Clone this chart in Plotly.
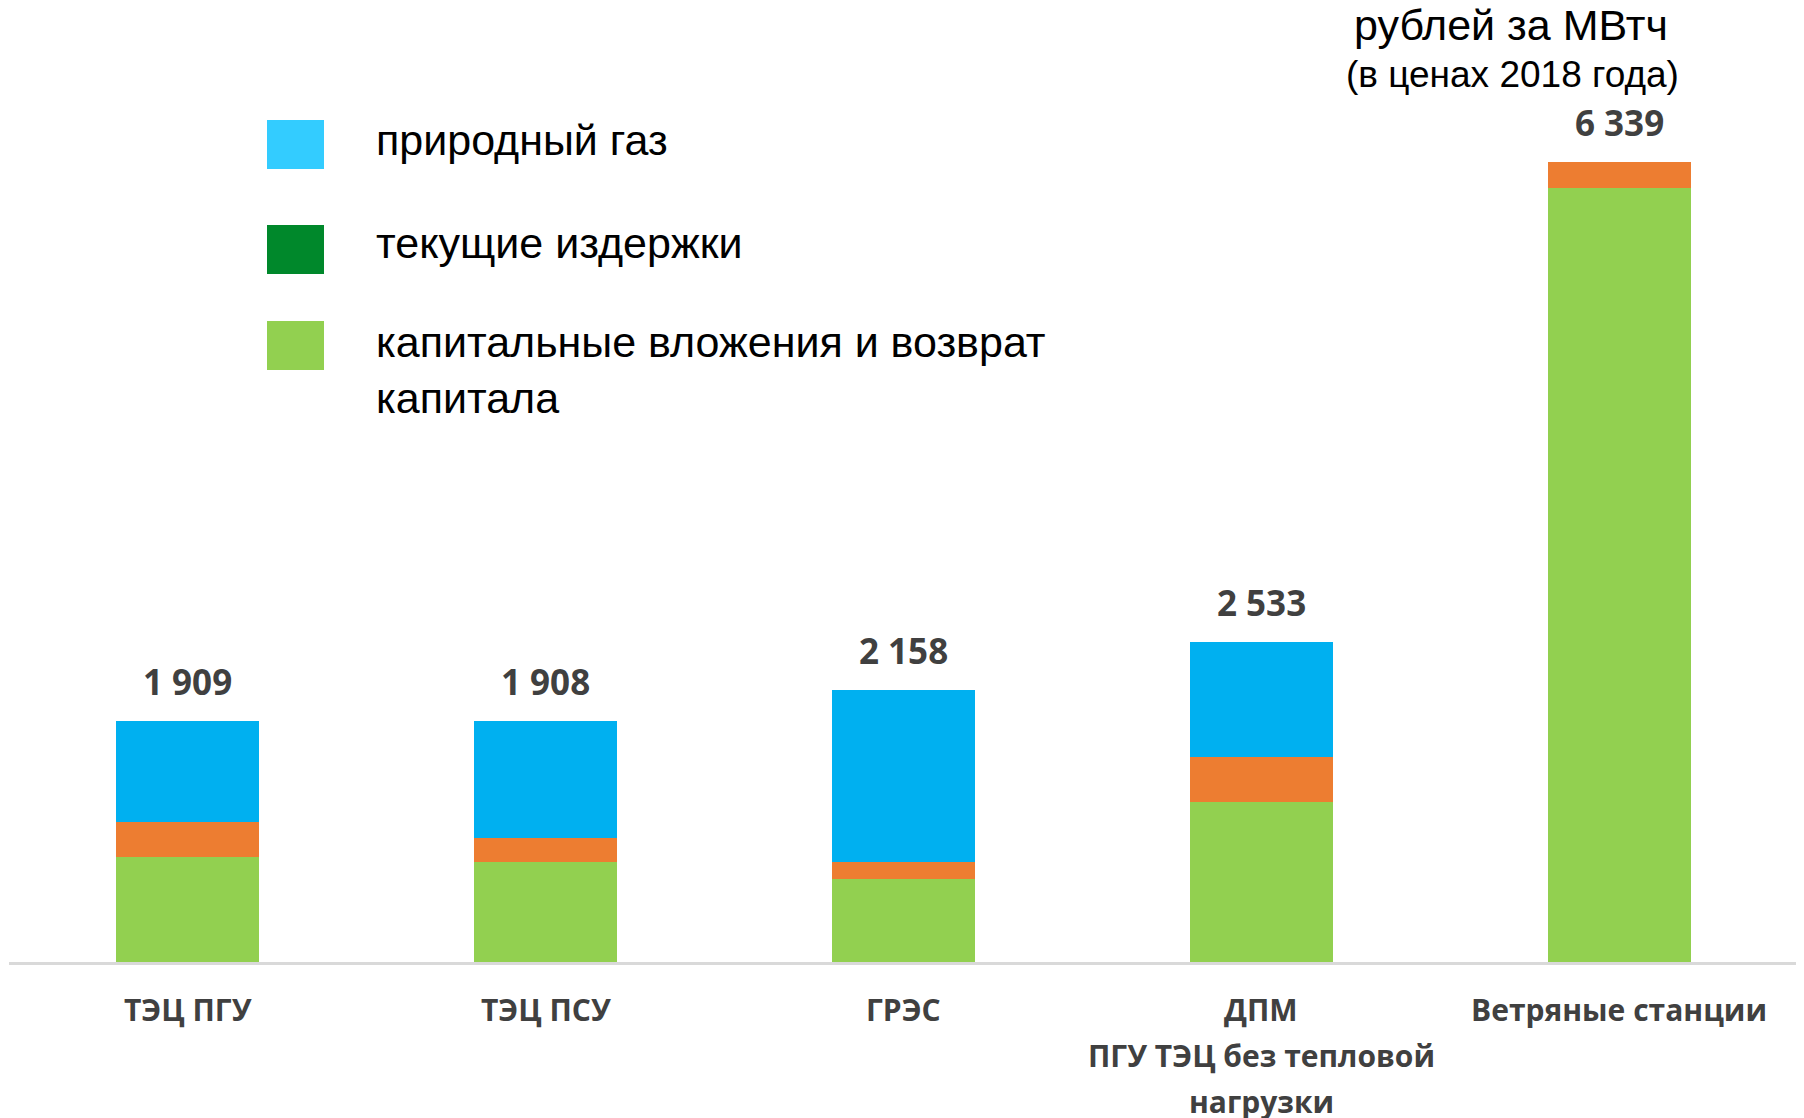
import plotly.graph_objects as go

categories = ["ТЭЦ ПГУ", "ТЭЦ ПСУ", "ГРЭС", "ДПМ", "Ветряные станции"]
category_lines = [["ТЭЦ ПГУ"], ["ТЭЦ ПСУ"], ["ГРЭС"], ["ДПМ", "ПГУ ТЭЦ без тепловой", "нагрузки"], ["Ветряные станции"]]
capital = [831, 791, 660, 1268, 6135]
current = [275, 193, 132, 358, 204]
gas = [803, 924, 1366, 907, 0]
totals = [1909, 1908, 2158, 2533, 6339]

legend_labels = ["природный газ", "текущие издержки", "капитальные вложения и возврат<br>капитала"]
legend_colors = ["#33CCFF", "#00882B", "#92D050"]

OFF = 8  # page body margin
W, H = 1796, 1110
L, R, T, B = 1, 6, 92, 156
PW, PH = W - L - R, H - T - B


def px(x):
    return (x - OFF - L) / PW


def py(y):
    return (H - B - (y - OFF)) / PH


fig = go.Figure()
fig.add_trace(go.Bar(x=categories, y=capital, marker=dict(color="#92D050", line_width=0), showlegend=False))
fig.add_trace(go.Bar(x=categories, y=current, marker=dict(color="#ED7D31", line_width=0), showlegend=False))
fig.add_trace(go.Bar(x=categories, y=gas, marker=dict(color="#00B0F0", line_width=0), showlegend=False))

for c, t in zip(categories, totals):
    fig.add_annotation(x=c, y=t, xref="x", yref="y", text=f"{t:,}".replace(",", " "),
                       showarrow=False, yanchor="bottom", yshift=14,
                       font=dict(family="Open Sans", size=35, color="#404040", weight="bold"))

# category labels (one annotation per line for the original's line spacing)
line_ys = [1010, 1055, 1101]
for c, lines in zip(categories, category_lines):
    for ly, txt in zip(line_ys, lines):
        fig.add_annotation(x=c, xref="x", yref="paper", y=py(ly), text=txt,
                           showarrow=False, xanchor="center", yanchor="middle",
                           font=dict(family="Open Sans", size=30, color="#404040", weight="bold"))

# legend drawn manually (colors differ from bars in the original)
sw_tops = [120, 225, 321]
text_ys = [140, 243, 370]
for top, ty, lab, col in zip(sw_tops, text_ys, legend_labels, legend_colors):
    fig.add_shape(type="rect", xref="paper", yref="paper",
                  x0=px(267), x1=px(324), y0=py(top + 49), y1=py(top),
                  fillcolor=col, line_width=0)
    fig.add_annotation(xref="paper", yref="paper", x=px(374), y=py(ty), text=lab,
                       showarrow=False, xanchor="left", yanchor="middle", align="left",
                       font=dict(family="Liberation Sans, Arial", size=43, color="#000000"))

fig.add_annotation(xref="paper", yref="paper", x=px(1511), y=py(25), text="рублей за МВтч",
                   showarrow=False, xanchor="center", yanchor="middle",
                   font=dict(family="Liberation Sans, Arial", size=43, color="#000000"))
fig.add_annotation(xref="paper", yref="paper", x=px(1512), y=py(74), text="(в ценах 2018 года)",
                   showarrow=False, xanchor="center", yanchor="middle",
                   font=dict(family="Liberation Sans, Arial", size=37, color="#000000"))

fig.update_layout(
    width=W, height=H, barmode="stack", bargap=0.6,
    margin=dict(l=L, r=R, t=T, b=B),
    plot_bgcolor="white", paper_bgcolor="white",
    xaxis=dict(showline=True, linecolor="#D9D9D9", linewidth=3, ticks="",
               showticklabels=False, showgrid=False),
    yaxis=dict(visible=False, range=[0, PH / 0.12614], showgrid=False),
)

fig.write_html("out.html")
